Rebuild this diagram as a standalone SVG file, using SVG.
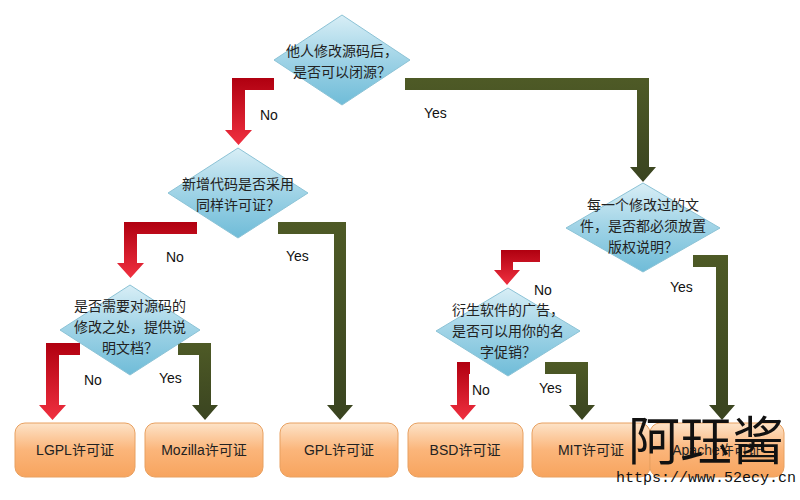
<svg xmlns="http://www.w3.org/2000/svg" width="800" height="500" viewBox="0 0 800 500">
<defs>
<linearGradient id="dg" x1="0" y1="0" x2="0" y2="1"><stop offset="0" stop-color="#d8eef6"/><stop offset="0.5" stop-color="#9fd3e6"/><stop offset="1" stop-color="#6fbcd8"/></linearGradient>
<linearGradient id="bg" x1="0" y1="0" x2="0" y2="1"><stop offset="0" stop-color="#fde3c8"/><stop offset="0.5" stop-color="#fbb57a"/><stop offset="1" stop-color="#f7a45e"/></linearGradient>
<linearGradient id="rg" x1="0" y1="0" x2="0" y2="1"><stop offset="0" stop-color="#b00010"/><stop offset="1" stop-color="#f03040"/></linearGradient>
<linearGradient id="yg" x1="0" y1="0" x2="0" y2="1"><stop offset="0" stop-color="#4e5a26"/><stop offset="1" stop-color="#3a4420"/></linearGradient>
<style>
.d{fill:url(#dg);stroke:#8cc3d6;stroke-width:1}
.b{fill:url(#bg);stroke:#e8a060;stroke-width:1}
.t{font-family:"Liberation Sans","Noto Sans CJK SC",sans-serif;font-size:14px;fill:#222;text-anchor:middle}
.l{font-family:"Liberation Sans",sans-serif;font-size:14px;fill:#111}
.no{fill:url(#rg)}
.yes{fill:url(#yg)}
</style>
</defs>
<g id="connectors">
<path class="no" d="M274 78H232V130H225L238.5 145L252 130H245V90H274Z"/>
<path class="yes" d="M405 78H649V167H656L643 182L630 167H637V90H405Z"/>
<path class="no" d="M197 222H124V263H117L130.5 278L144 263H137V234H197Z"/>
<path class="yes" d="M278 222H346V405H353L340 420L327 405H334V234H278Z"/>
<path class="no" d="M80 343H46V405H39L52.5 420L66 405H59V355H80Z"/>
<path class="yes" d="M178 343H211V405H218L205 420L192 405H199V355H178Z"/>
<path class="no" d="M540 250H501V270H494L507 285L520 270H513V262H540Z"/>
<path class="yes" d="M693 255H728V405H735L722 420L709 405H716V267H693Z"/>
<path class="no" d="M470 362H457V405H450L463 420L476 405H469V374H470Z"/>
<path class="yes" d="M545 362H588V405H595L582 420L569 405H576V374H545Z"/>
<text class="l" x="260" y="120">No</text>
<text class="l" x="424" y="118">Yes</text>
<text class="l" x="166" y="262">No</text>
<text class="l" x="286" y="261">Yes</text>
<text class="l" x="534" y="295">No</text>
<text class="l" x="670" y="292">Yes</text>
<text class="l" x="84" y="385">No</text>
<text class="l" x="159" y="383">Yes</text>
<text class="l" x="472" y="395">No</text>
<text class="l" x="539" y="393">Yes</text>
</g>
<g id="d1"><path class="d" d="M342 15L410 60L342 105L274 60Z"/><text class="t" x="342" y="56">他人修改源码后，</text><text class="t" x="342" y="77">是否可以闭源？</text></g>
<g id="d2"><path class="d" d="M238 148L308 193L238 238L168 193Z"/><text class="t" x="238" y="189">新增代码是否采用</text><text class="t" x="238" y="210">同样许可证？</text></g>
<g id="d3"><path class="d" d="M643 183L720 228L643 272L566 228Z"/><text class="t" x="643" y="210">每一个修改过的文</text><text class="t" x="643" y="231">件，是否都必须放置</text><text class="t" x="643" y="252">版权说明？</text></g>
<g id="d4"><path class="d" d="M130 285L200 330L130 375L60 330Z"/><text class="t" x="130" y="311">是否需要对源码的</text><text class="t" x="130" y="332">修改之处，提供说</text><text class="t" x="130" y="353">明文档？</text></g>
<g id="d5"><path class="d" d="M508 288L580 331L508 376L436 331Z"/><text class="t" x="508" y="315">衍生软件的广告，</text><text class="t" x="508" y="336">是否可以用你的名</text><text class="t" x="508" y="357">字促销？</text></g>
<g id="b1"><rect class="b" x="15" y="423" width="120" height="54" rx="10"/><text class="t" x="75" y="455">LGPL许可证</text></g>
<g id="b2"><rect class="b" x="145" y="423" width="118" height="54" rx="10"/><text class="t" x="204" y="455">Mozilla许可证</text></g>
<g id="b3"><rect class="b" x="280" y="423" width="118" height="54" rx="10"/><text class="t" x="339" y="455">GPL许可证</text></g>
<g id="b4"><rect class="b" x="408" y="423" width="115" height="54" rx="10"/><text class="t" x="465" y="455">BSD许可证</text></g>
<g id="b5"><rect class="b" x="532" y="423" width="118" height="54" rx="10"/><text class="t" x="591" y="455">MIT许可证</text></g>
<g id="b6"><rect class="b" x="650" y="423" width="134" height="54" rx="10"/><text class="t" x="717" y="455">Apache许可证</text></g>
<g id="watermark"><text x="706" y="460" style="font-family:'Noto Sans CJK SC',sans-serif;font-size:52px;fill:#111;text-anchor:middle">阿珏酱</text><text x="706" y="482" style="font-family:'Liberation Mono',monospace;font-size:15px;fill:#111;text-anchor:middle">https://www.52ecy.cn</text></g>
</svg>
